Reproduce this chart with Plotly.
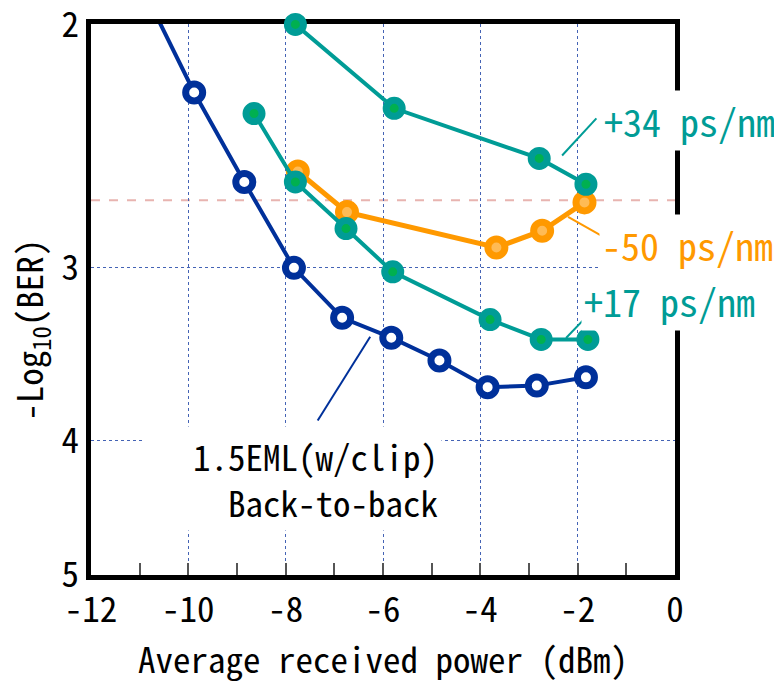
import math
import plotly.graph_objects as go

# ---- data ----
b2b_x = [-10.85, -9.88, -8.85, -7.83, -6.84, -5.83, -4.84, -3.85, -2.84, -1.83]
b2b_y = [1.91, 2.24, 2.60, 3.00, 3.26, 3.37, 3.50, 3.66, 3.65, 3.60]
p34_x = [-7.80, -5.77, -2.79, -1.83]
p34_y = [2.00, 2.30, 2.50, 2.61]
p17_x = [-8.65, -7.80, -6.76, -5.80, -3.80, -2.75, -1.79]
p17_y = [2.32, 2.60, 2.81, 3.02, 3.27, 3.38, 3.38]
m50_x = [-7.75, -6.74, -3.67, -2.73, -1.86]
m50_y = [2.555, 2.734, 2.90, 2.82, 2.69]
fec_level = 2.68
x_ticks = [-12, -10, -8, -6, -4, -2, 0]
y_ticks = [2, 3, 4, 5]

FONT = "Noto Sans Mono CJK JP, DejaVu Sans Mono, monospace"
NAVY = "#00309A"
TEAL = "#009C96"
GREEN = "#00B050"
ORANGE = "#FF9900"
ORANGE_IN = "#FFBB55"
GRID = "#4463B5"

fig = go.Figure()

fig.add_trace(go.Scatter(
    x=m50_x, y=m50_y, mode="lines+markers", cliponaxis=False,
    line=dict(color=ORANGE, width=5),
    marker=dict(size=17, color=ORANGE_IN, line=dict(color=ORANGE, width=7)),
))
fig.add_trace(go.Scatter(
    x=p17_x, y=p17_y, mode="lines+markers", cliponaxis=False,
    line=dict(color=TEAL, width=4),
    marker=dict(size=16, color=GREEN, line=dict(color=TEAL, width=7)),
))
fig.add_trace(go.Scatter(
    x=p34_x, y=p34_y, mode="lines+markers", cliponaxis=False,
    line=dict(color=TEAL, width=4),
    marker=dict(size=16, color=GREEN, line=dict(color=TEAL, width=7)),
))
fig.add_trace(go.Scatter(
    x=b2b_x, y=b2b_y, mode="lines+markers", cliponaxis=False,
    line=dict(color=NAVY, width=4),
    marker=dict(size=17, color="white", line=dict(color=NAVY, width=7),
                opacity=[0 if v < 2 else 1 for v in b2b_y]),
))

# FEC threshold line
fig.add_shape(type="line", xref="paper", yref="y", x0=0, x1=1,
              y0=fec_level, y1=fec_level, layer="below",
              line=dict(color="#E8B4B0", width=2, dash="dash"))

# leader lines
leaders = [
    ((-2.32, 2.488), (-1.615, 2.339), TEAL),
    ((-2.197, 2.756), (-1.533, 2.841), ORANGE),
    ((-2.239, 3.372), (-1.753, 3.236), TEAL),
    ((-6.263, 3.365), (-7.342, 3.868), NAVY),
]
for (a, b, c) in leaders:
    fig.add_shape(type="line", xref="x", yref="y", x0=a[0], y0=a[1],
                  x1=b[0], y1=b[1], line=dict(color=c, width=2))

def ann(text, x, y, color, size=38, **kw):
    opts = dict(showarrow=False, bgcolor="white", borderpad=2,
                xanchor="center", yanchor="middle")
    opts.update(kw)
    fig.add_annotation(text=text, x=x, y=y, xref="paper", yref="paper",
                       font=dict(family=FONT, size=size, color=color), **opts)

ann("+34 ps/nm", 1.025, 0.825, TEAL)
ann("-50 ps/nm", 1.022, 0.599, ORANGE)
ann("+17 ps/nm", 0.990, 0.499, TEAL)
ann("1.5EML(w/clip)<br>Back-to-back", 0.346, 0.176, "black", 35,
    align="right", width=290, borderpad=3)
# y-axis title
ann("-Log<sub>10</sub>(BER)", -0.1045, 0.445, "black", 35, textangle=-90,
    bgcolor="rgba(0,0,0,0)")

axis_common = dict(
    showline=True, linewidth=5, linecolor="black", mirror=True,
    showgrid=True, gridcolor=GRID, gridwidth=1, griddash="dot",
    zeroline=False, layer="below traces", ticklabeloverflow="allow",
    automargin=False,
    tickfont=dict(family=FONT, size=35, color="black"),
)

fig.update_xaxes(
    range=[-12, 0], tickvals=x_ticks, ticktext=[str(v) for v in x_ticks],
    ticks="inside", ticklen=12, tickwidth=1.5, tickcolor="#555",
    minor=dict(dtick=1, ticks="inside", ticklen=12, tickwidth=1.5,
               tickcolor="#555", showgrid=False),
    title=dict(text="Average received power (dBm)",
               font=dict(family=FONT, size=35, color="black"), standoff=18),
    **axis_common,
)
fig.update_yaxes(
    type="log", range=[math.log10(5) + 0.0003, math.log10(2) - 0.0003],
    tickvals=y_ticks, ticktext=[str(v) for v in y_ticks], ticks="",
    **axis_common,
)

fig.update_layout(
    width=782, height=681, showlegend=False,
    paper_bgcolor="white", plot_bgcolor="white",
    margin=dict(l=83, r=115, t=16, b=114, autoexpand=False),
)

fig.write_html("out.html")
